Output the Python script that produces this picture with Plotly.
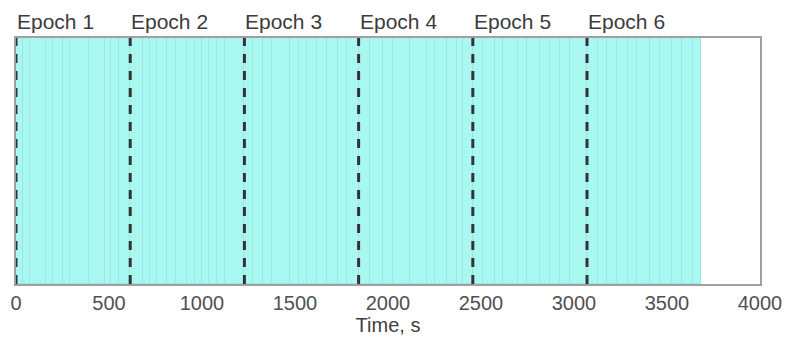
import plotly.graph_objects as go

# Segment boundaries (seconds)
boundaries = [0, 36, 75, 161, 199, 251, 290, 392, 478, 511, 554, 614, 683, 720, 758, 812,
              860, 919, 962, 1000, 1038, 1081, 1124, 1228, 1274, 1330, 1375, 1473, 1523,
              1563, 1617, 1674, 1733, 1778, 1842, 1903, 1975, 2029, 2118, 2208, 2253, 2315,
              2369, 2405, 2456, 2512, 2575, 2620, 2701, 2746, 2817, 2871, 2925, 2978, 3070,
              3131, 3176, 3229, 3292, 3337, 3409, 3462, 3525, 3579, 3641, 3684]
epoch_starts = [0, 614, 1228, 1842, 2456, 3070]
epoch_labels = ["Epoch 1", "Epoch 2", "Epoch 3", "Epoch 4", "Epoch 5", "Epoch 6"]
x_ticks = [0, 500, 1000, 1500, 2000, 2500, 3000, 3500, 4000]

mids = [(a + b) / 2 for a, b in zip(boundaries[:-1], boundaries[1:])]
widths = [b - a for a, b in zip(boundaries[:-1], boundaries[1:])]

fig = go.Figure()
fig.add_trace(go.Bar(
    x=mids, y=[1] * len(mids), width=widths,
    marker=dict(color="#a9f7f1", line=dict(color="#9be6e0", width=1)),
    hoverinfo="skip", showlegend=False,
))

for xs, lab in zip(epoch_starts, epoch_labels):
    fig.add_trace(go.Scatter(
        x=[xs, xs], y=[0, 1], mode="lines",
        line=dict(color="#333333", width=3, dash="9px,8px"),
        showlegend=False, hoverinfo="skip",
    ))
    fig.add_annotation(x=xs, y=1, xref="x", yref="y", text=lab, showarrow=False,
                       xanchor="left", yanchor="bottom", yshift=3, xshift=-1,
                       font=dict(family="Liberation Sans, Arial", size=21, color="#3c3c3c"))

fig.update_layout(
    width=785, height=339,
    margin=dict(l=16, r=25, t=38, b=55, autoexpand=False),
    plot_bgcolor="white", paper_bgcolor="white",
    bargap=0,
    xaxis=dict(range=[0, 4000], tickvals=x_ticks, ticktext=[str(t) for t in x_ticks],
               showgrid=False, zeroline=False, showline=True, linecolor="#a0a0a0",
               linewidth=1.5, mirror=True, ticks="", automargin=False,
               tickfont=dict(family="Liberation Sans, Arial", size=20, color="#505050"),
               title=dict(text="Time, s", standoff=4,
                          font=dict(family="Liberation Sans, Arial", size=20, color="#404040"))),
    yaxis=dict(range=[0, 1], showticklabels=False, showgrid=False, zeroline=False,
               automargin=False,
               showline=True, linecolor="#a0a0a0", linewidth=1.5, mirror=True, ticks=""),
)

fig.write_html("out.html")
